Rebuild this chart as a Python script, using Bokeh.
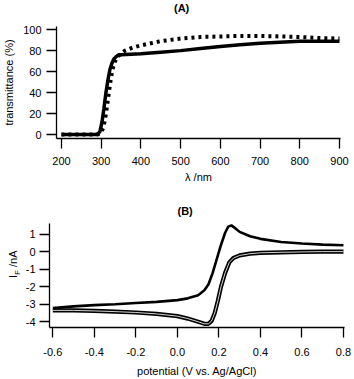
from bokeh.plotting import figure
from bokeh.layouts import row
from bokeh.models import Range1d, FixedTicker, PrintfTickFormatter, Title, Div
from bokeh.embed import file_html
from bokeh.resources import INLINE

# ---------------- data ----------------
# Panel A: transmittance spectra
wl_solid = [200, 250, 285, 292, 297, 302, 307, 312, 317, 322, 327, 332, 337, 342, 350,
            375, 400, 450, 500, 550, 600, 650, 700, 750, 800, 850, 900]
tr_solid = [0, 0, 0, 0.5, 3, 12, 25, 40, 52, 62, 68, 72, 74, 75.5, 76,
            76.5, 77, 78.5, 80, 82, 84, 85.5, 87, 88, 89, 89, 89]
wl_dot = [200, 250, 290, 298, 305, 310, 315, 320, 325, 330, 335, 340, 350, 360,
          380, 400, 450, 500, 550, 600, 650, 700, 750, 800, 850, 900]
tr_dot = [0, 0, 0, 1, 6, 15, 28, 42, 55, 64, 70, 74, 77, 80,
          83, 85, 89, 91.5, 93, 93.5, 94, 94, 93.5, 93, 92, 91.5]

# Panel B: cyclic voltammogram
cv_up_x = [-0.6, -0.5, -0.4, -0.3, -0.2, -0.1, 0.0, 0.05, 0.1, 0.13, 0.15, 0.17, 0.19,
           0.21, 0.23, 0.245, 0.26, 0.28, 0.3, 0.35, 0.4, 0.5, 0.6, 0.7, 0.8]
cv_up_y = [-3.22, -3.12, -3.05, -3.0, -2.93, -2.86, -2.76, -2.66, -2.48, -2.2, -1.85, -1.2, -0.4,
           0.4, 1.1, 1.45, 1.52, 1.35, 1.15, 0.9, 0.75, 0.57, 0.48, 0.42, 0.38]
cv_lo_x = [0.8, 0.7, 0.6, 0.5, 0.4, 0.35, 0.3, 0.27, 0.25, 0.23, 0.21, 0.195, 0.18, 0.165,
           0.15, 0.13, 0.1, 0.05, 0.0, -0.1, -0.2, -0.3, -0.4, -0.5, -0.6]
cv_lo_y = [0.02, 0.02, 0.0, -0.02, -0.05, -0.1, -0.2, -0.35, -0.6, -1.2, -2.0, -2.8, -3.5, -3.95,
           -4.12, -4.12, -4.0, -3.82, -3.68, -3.55, -3.47, -3.42, -3.38, -3.35, -3.35]

xticks_a = [200, 300, 400, 500, 600, 700, 800, 900]
yticks_a = [0, 20, 40, 60, 80, 100]
xticks_b = [-0.6, -0.4, -0.2, 0.0, 0.2, 0.4, 0.6, 0.8]
yticks_b = [-4, -3, -2, -1, 0, 1]

FONT = "Liberation Sans"
CSS_FONT = "font-family:'Liberation Sans',Arial,sans-serif;color:#000;"


def style_axes(p):
    for ax in (p.xaxis[0], p.yaxis[0]):
        ax.axis_line_color = "black"
        ax.axis_line_width = 1.3
        ax.major_tick_line_color = "black"
        ax.major_tick_line_width = 1.3
        ax.major_tick_in = 0
        ax.major_tick_out = 10
        ax.minor_tick_line_color = None
        ax.major_label_text_font = FONT
        ax.major_label_text_font_size = "11px"
        ax.major_label_text_color = "black"
        ax.axis_label_text_font = FONT
        ax.axis_label_text_font_size = "11px"
        ax.axis_label_text_font_style = "normal"
        ax.axis_label_text_color = "black"
    p.xaxis[0].major_label_standoff = 8
    p.yaxis[0].major_label_standoff = 5
    p.grid.visible = False
    p.outline_line_color = None
    p.background_fill_color = "white"
    p.border_fill_color = "white"


# ---------------- panel A ----------------
title_a = Div(
    text=('<div style="padding-left:174px;font-size:11px;font-weight:bold;line-height:14px;'
          'height:14px;white-space:nowrap;' + CSS_FONT + '">(A)</div>'),
    width=354, height=14, margin=0)

pa = figure(width=354, height=171, output_backend="svg", toolbar_location=None,
            x_range=Range1d(187.5, 902.5), y_range=Range1d(-3.8, 103),
            min_border_left=53, min_border_right=14, min_border_top=12, min_border_bottom=47)
pa.line(wl_dot, tr_dot, line_color="black", line_width=4, line_dash="3 4", line_cap="butt")
pa.line(wl_solid, tr_solid, line_color="black", line_width=3.5)
pa.xaxis.ticker = FixedTicker(ticks=xticks_a)
pa.yaxis.ticker = FixedTicker(ticks=yticks_a)
pa.xaxis.axis_label = "λ /nm"
pa.yaxis.axis_label = "transmittance (%)"
style_axes(pa)
pa.xaxis[0].axis_label_standoff = 3
pa.yaxis[0].axis_label_standoff = 5

# ---------------- panel B ----------------
pb = figure(width=332, height=194, output_backend="svg", toolbar_location=None,
            x_range=Range1d(-0.616, 0.805), y_range=Range1d(-4.33, 1.63),
            min_border_left=24, min_border_right=10, min_border_top=38, min_border_bottom=46)
pb.title = Title(text="(B)", align="left", offset=128, standoff=13, vertical_align="bottom",
                 text_font=FONT, text_font_size="11px", text_font_style="bold",
                 text_color="black")
pb.line(cv_lo_x, cv_lo_y, line_color="black", line_width=4.2)
pb.line(cv_lo_x, cv_lo_y, line_color="#d4d4d4", line_width=1)
pb.line(cv_up_x, cv_up_y, line_color="black", line_width=2.6)
pb.xaxis.ticker = FixedTicker(ticks=xticks_b)
pb.yaxis.ticker = FixedTicker(ticks=yticks_b)
pb.xaxis.formatter = PrintfTickFormatter(format="%.1f")
pb.yaxis.formatter = PrintfTickFormatter(format="%d")
pb.xaxis.axis_label = "potential (V vs. Ag/AgCl)"
style_axes(pb)
pb.xaxis[0].major_label_standoff = 10
pb.xaxis[0].axis_label_standoff = 6
pb.yaxis[0].major_label_standoff = 4

# y-axis label of panel B with a real subscript (I_F /nA)
ylabel_b = Div(
    text=('<div style="width:0;height:0;overflow:visible;">'
          '<div style="display:inline-block;transform:translate(7px,91px) rotate(-90deg);'
          'transform-origin:0 0;font-size:11px;line-height:13px;white-space:nowrap;'
          + CSS_FONT + '">'
          'I<sub style="font-size:8px;line-height:0">F</sub> /nA</div></div>'),
    width=22, height=194, margin=0,
    styles={"overflow": "visible", "min-width": "22px", "max-width": "22px"})

# independent roots, stacked vertically
open("out.html", "w").write(file_html([title_a, pa, row(ylabel_b, pb, spacing=0)], INLINE))
